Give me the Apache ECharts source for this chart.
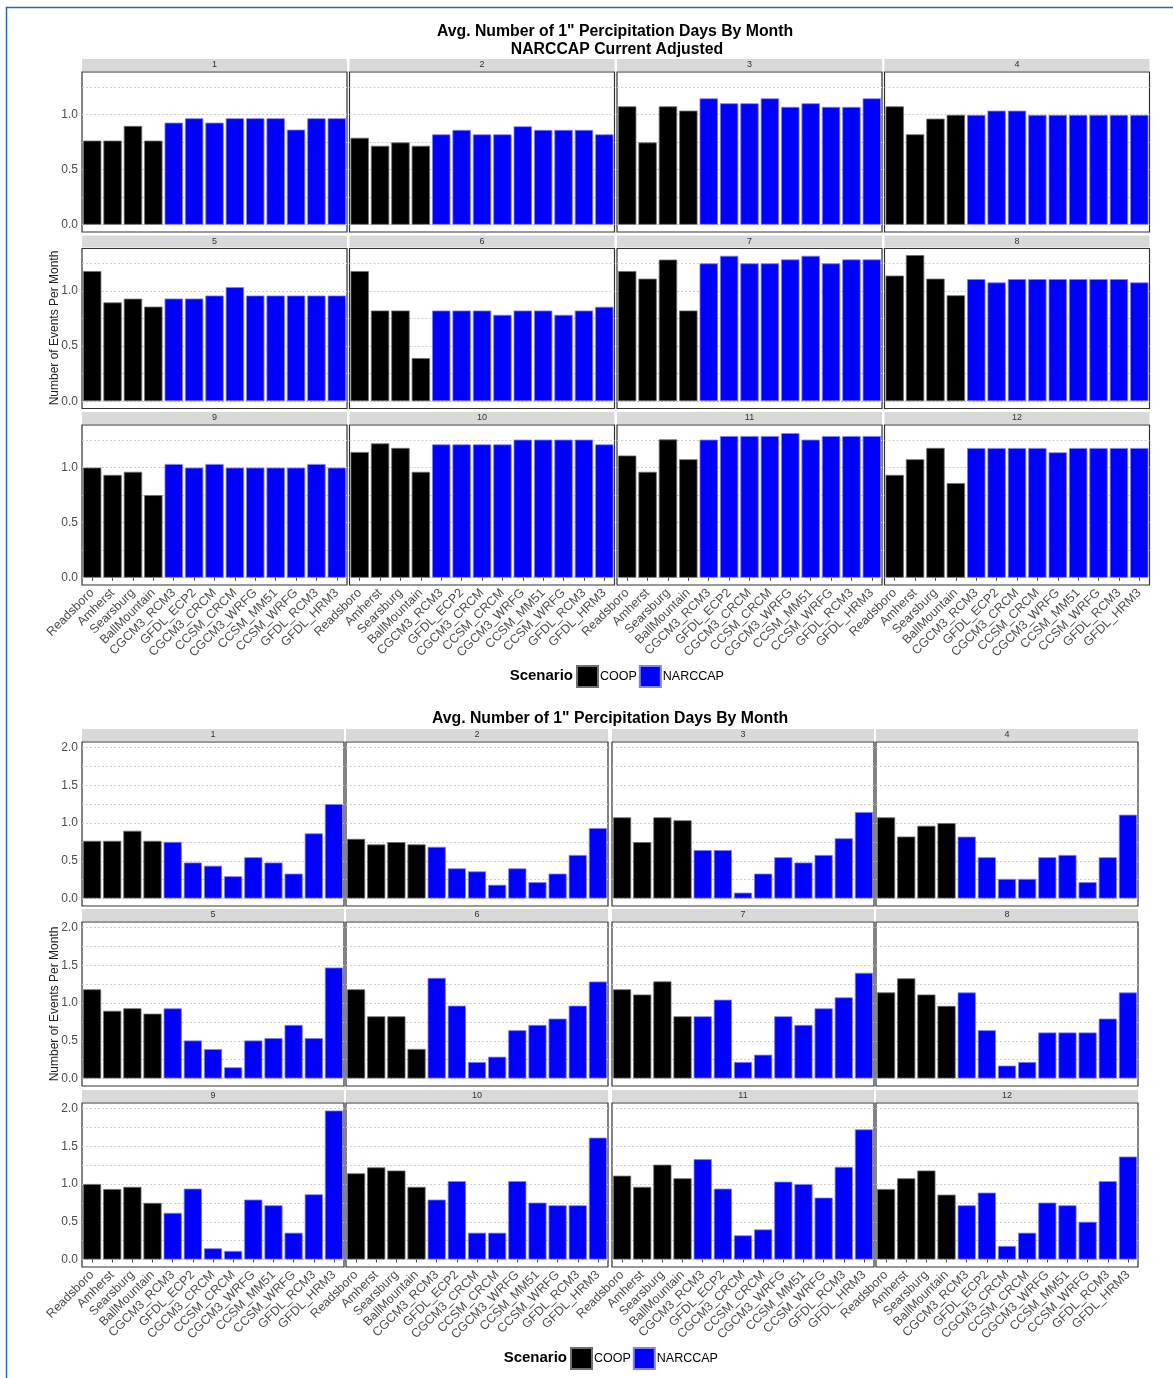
<!DOCTYPE html>
<html><head><meta charset="utf-8">
<script src="https://cdn.jsdelivr.net/npm/echarts@6/dist/echarts.min.js"></script>
<style>html,body{margin:0;padding:0;background:#fff}#c{width:1173px;height:1378px}</style>
</head><body><div id="c"></div>
<script>
// ---------- data ----------
const categories = ['Readsboro','Amherst','Searsburg','BallMountain','CGCM3_RCM3','GFDL_ECP2','CGCM3_CRCM','CCSM_CRCM','CGCM3_WRFG','CCSM_MM51','CCSM_WRFG','GFDL_RCM3','GFDL_HRM3'];
const coopStations = ['Readsboro','Amherst','Searsburg','BallMountain'];
const months = ['1','2','3','4','5','6','7','8','9','10','11','12'];

// COOP station values per month (Readsboro, Amherst, Searsburg, BallMountain)
const coopValues = [
  [0.764,0.764,0.897,0.764],
  [0.790,0.717,0.747,0.717],
  [1.075,0.747,1.075,1.036],
  [1.075,0.821,0.963,0.998],
  [1.182,0.897,0.931,0.859],
  [1.182,0.824,0.824,0.392],
  [1.182,1.113,1.286,0.824],
  [1.141,1.327,1.113,0.962],
  [1.000,0.934,0.962,0.750],
  [1.142,1.220,1.179,0.962],
  [1.110,0.962,1.256,1.076],
  [0.934,1.076,1.179,0.859]
];

// NARCCAP model values, current adjusted (top chart)
const narccapAdjusted = [
  [0.927,0.967,0.927,0.967,0.967,0.967,0.864,0.967,0.967],
  [0.821,0.861,0.821,0.821,0.894,0.861,0.861,0.861,0.821],
  [1.148,1.103,1.103,1.148,1.070,1.103,1.070,1.070,1.148],
  [0.997,1.036,1.036,0.997,0.997,0.997,0.997,0.997,0.997],
  [0.933,0.933,0.960,1.036,0.960,0.960,0.960,0.960,0.960],
  [0.824,0.824,0.824,0.785,0.824,0.824,0.785,0.824,0.858],
  [1.252,1.321,1.252,1.252,1.288,1.321,1.252,1.288,1.288],
  [1.109,1.079,1.109,1.109,1.109,1.109,1.109,1.109,1.079],
  [1.033,1.000,1.033,1.000,1.000,1.000,1.000,1.033,1.000],
  [1.211,1.211,1.211,1.211,1.254,1.254,1.254,1.254,1.211],
  [1.254,1.287,1.287,1.287,1.314,1.254,1.287,1.287,1.287],
  [1.178,1.178,1.178,1.178,1.139,1.178,1.178,1.178,1.178]
];

// NARCCAP model values, unadjusted (bottom chart)
const narccapRaw = [
  [0.750,0.477,0.434,0.295,0.547,0.477,0.330,0.863,1.250],
  [0.685,0.400,0.360,0.182,0.400,0.217,0.330,0.577,0.933],
  [0.642,0.642,0.078,0.330,0.547,0.477,0.577,0.798,1.145],
  [0.820,0.547,0.260,0.260,0.547,0.577,0.217,0.547,1.110],
  [0.930,0.504,0.390,0.149,0.504,0.535,0.710,0.535,1.470],
  [1.333,0.965,0.219,0.289,0.640,0.710,0.794,0.965,1.285],
  [0.825,1.044,0.219,0.316,0.825,0.710,0.930,1.075,1.400],
  [1.140,0.640,0.171,0.219,0.610,0.610,0.610,0.794,1.140],
  [0.618,0.939,0.149,0.114,0.794,0.719,0.355,0.864,1.974],
  [0.794,1.039,0.355,0.355,1.039,0.754,0.719,0.719,1.614],
  [1.329,0.939,0.320,0.399,1.031,1.000,0.820,1.228,1.724],
  [0.719,0.886,0.180,0.355,0.754,0.719,0.500,1.039,1.364]
];

const yLabelsTop = [0, 0.5, 1.0];
const yGridTop = [0, 0.25, 0.5, 0.75, 1.0, 1.25];
const yLabelsBottom = [0, 0.5, 1.0, 1.5, 2.0];
const yGridBottom = [0, 0.25, 0.5, 0.75, 1.0, 1.25, 1.5, 1.75, 2.0];
const yRangeTop = [-0.066, 1.387];
const yRangeBottom = [-0.099, 2.073];

const titleTop = ['Avg. Number of 1" Percipitation Days By Month', 'NARCCAP Current Adjusted'];
const titleBottom = 'Avg. Number of 1" Percipitation Days By Month';
const yTitle = 'Number of Events Per Month';
const legendTitle = 'Scenario';
const scenarioNames = ['COOP', 'NARCCAP'];

// ---------- layout / style ----------
const FONT = '"Liberation Sans", Arial, Helvetica, sans-serif';
const COLORS = { COOP: '#000000', NARCCAP: '#0000ff' };
const layouts = [
  { cols: [82, 349.5, 617, 884.5], w: 265, rows: [72, 248.5, 425], h: 160,
    range: yRangeTop, labels: yLabelsTop, grid: yGridTop, values: narccapAdjusted,
    legend: { left: 576, top: 665, textX: 573, textY: 676 }, yTitleY: 328 },
  { cols: [82, 346, 612, 876], w: 262, rows: [742, 922, 1103], h: 164,
    range: yRangeBottom, labels: yLabelsBottom, grid: yGridBottom, values: narccapRaw,
    legend: { left: 570, top: 1347, textX: 567, textY: 1358 }, yTitleY: 1004 }
];

const grids = [], xAxes = [], yAxes = [], series = [], graphics = [], legends = [];
const nullsCoop = coopStations.map(() => null);

layouts.forEach((L, c) => {
  months.forEach((mName, m) => {
    const r = Math.floor(m / 4), k = m % 4;
    const x = L.cols[k], y = L.rows[r];
    const gi = grids.length;
    grids.push({ left: x, top: y, width: L.w, height: L.h, show: true,
      borderColor: '#333', borderWidth: 1.2, backgroundColor: '#fff' });
    xAxes.push({ type: 'category', gridIndex: gi, data: categories,
      axisLine: { show: false },
      axisTick: { show: r === 2, length: 3, alignWithLabel: true, lineStyle: { color: '#444' } },
      axisLabel: { show: r === 2, rotate: 45, interval: 0, fontSize: 12.5, color: '#4d4d4d',
        fontFamily: FONT, margin: 6 },
      splitLine: { show: false } });
    yAxes.push({ type: 'value', gridIndex: gi, min: L.range[0], max: L.range[1],
      axisLine: { show: false },
      axisTick: { show: false, customValues: L.grid },
      axisLabel: { show: k === 0, customValues: L.labels, formatter: v => v.toFixed(1),
        fontSize: 12, color: '#4d4d4d', fontFamily: FONT, margin: 4 },
      splitLine: { show: true, lineStyle: { color: '#cfcfcf', type: [2, 2], width: 1 } } });
    const coopData = coopValues[m].concat(L.values[m].map(() => null));
    const narData = nullsCoop.concat(L.values[m]);
    series.push({ type: 'bar', name: 'COOP', xAxisIndex: gi, yAxisIndex: gi, data: coopData,
      barGap: '-100%', barCategoryGap: '10%',
      itemStyle: { color: COLORS.COOP, borderColor: '#6f6f6f', borderWidth: 0.8 } });
    series.push({ type: 'bar', name: 'NARCCAP', xAxisIndex: gi, yAxisIndex: gi, data: narData,
      barGap: '-100%', barCategoryGap: '10%',
      itemStyle: { color: COLORS.NARCCAP, borderColor: '#8080ff', borderWidth: 0.8 } });
    // facet strip
    graphics.push({ type: 'rect', silent: true,
      shape: { x: x, y: y - 13, width: L.w, height: 12 }, style: { fill: '#d9d9d9' } });
    graphics.push({ type: 'text', silent: true, x: x + L.w / 2, y: y - 7,
      style: { text: mName, fill: '#333', fontSize: 9, fontFamily: FONT,
        align: 'center', verticalAlign: 'middle' } });
  });
  // y title
  graphics.push({ type: 'text', silent: true, x: 55, y: L.yTitleY, rotation: Math.PI / 2,
    style: { text: yTitle, fill: '#222', fontSize: 12, fontFamily: FONT,
      align: 'center', verticalAlign: 'middle' } });
  // legend title
  graphics.push({ type: 'text', silent: true, x: L.legend.textX, y: L.legend.textY,
    style: { text: legendTitle, fill: '#000', fontSize: 15, fontWeight: 'bold', fontFamily: FONT,
      align: 'right', verticalAlign: 'middle' } });
  legends.push({ data: scenarioNames, left: L.legend.left, top: L.legend.top, orient: 'horizontal',
    icon: 'rect', itemWidth: 21, itemHeight: 21, itemGap: 2, padding: 0, selectedMode: false,
    textStyle: { fontSize: 12.5, color: '#000', fontFamily: FONT, padding: [0, 0, 0, -3] } });
});

// titles
graphics.push({ type: 'text', silent: true, x: 615, y: 32,
  style: { text: titleTop[0], fill: '#000', fontSize: 15.8, fontWeight: 'bold', fontFamily: FONT,
    align: 'center', verticalAlign: 'middle' } });
graphics.push({ type: 'text', silent: true, x: 617, y: 50,
  style: { text: titleTop[1], fill: '#000', fontSize: 15.8, fontWeight: 'bold', fontFamily: FONT,
    align: 'center', verticalAlign: 'middle' } });
graphics.push({ type: 'text', silent: true, x: 610, y: 719,
  style: { text: titleBottom, fill: '#000', fontSize: 15.8, fontWeight: 'bold', fontFamily: FONT,
    align: 'center', verticalAlign: 'middle' } });
// outer frame
graphics.push({ type: 'polyline', silent: true,
  shape: { points: [[6.5, 1378], [6.5, 7.5], [1173, 7.5]] },
  style: { stroke: '#2b6aa3', lineWidth: 1.5, fill: null } });

const chart = echarts.init(document.getElementById('c'), null, { renderer: 'canvas' });
chart.setOption({
  backgroundColor: '#fff',
  animation: false,
  textStyle: { fontFamily: FONT },
  grid: grids, xAxis: xAxes, yAxis: yAxes, series: series,
  legend: legends,
  graphic: graphics
});
</script></body></html>
